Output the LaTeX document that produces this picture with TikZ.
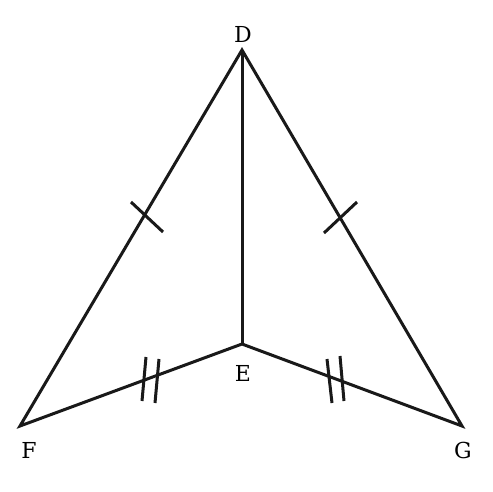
\documentclass[tikz,border=0pt]{standalone}
\usepackage{fontspec}
\setmainfont{DejaVu Serif}
\begin{document}
\begin{tikzpicture}[x=1pt,y=-1pt,
  edge/.style={line width=3pt,line join=miter,black!90},
  tick/.style={line width=3pt,black!90},
  lbl/.style={font=\fontsize{22}{26}\selectfont,inner sep=0pt}]
\useasboundingbox (0,0) rectangle (493,491);
\coordinate (D) at (242,50);
\coordinate (E) at (242,344);
\coordinate (F) at (20,426);
\coordinate (G) at (462,426);
\draw[edge] (F) -- (D) -- (G) -- (E) -- cycle;
\draw[edge] (D) -- (E);
% ticks
\coordinate (t1a) at (131,202); \coordinate (t1b) at (163,232);
\draw[tick] (t1a) -- (t1b);
\coordinate (t2a) at (324,233); \coordinate (t2b) at (357,202);
\draw[tick] (t2a) -- (t2b);
\coordinate (t3a) at (146,357); \coordinate (t3b) at (142,401);
\coordinate (t4a) at (159,359); \coordinate (t4b) at (155,403);
\draw[tick] (t3a) -- (t3b);
\draw[tick] (t4a) -- (t4b);
\coordinate (t5a) at (327,359); \coordinate (t5b) at (332,403);
\coordinate (t6a) at (340,356); \coordinate (t6b) at (344,401);
\draw[tick] (t5a) -- (t5b);
\draw[tick] (t6a) -- (t6b);
\node[lbl] (lD) at (243,34) {D};
\node[lbl] (lE) at (243,373) {E};
\node[lbl] (lF) at (29,450) {F};
\node[lbl] (lG) at (463,450) {G};
\end{tikzpicture}
\end{document}
